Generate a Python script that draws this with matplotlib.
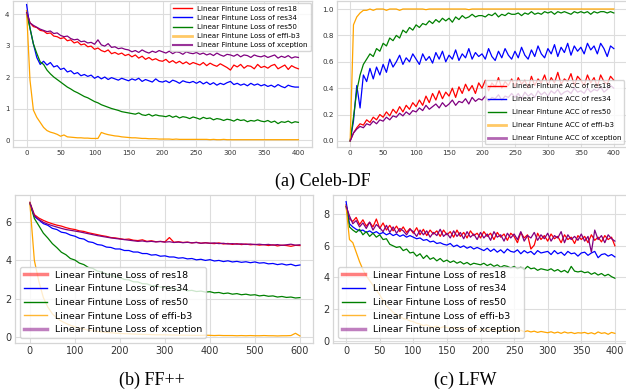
import numpy as np
import matplotlib
matplotlib.use('Agg')
import matplotlib.pyplot as plt
from matplotlib.lines import Line2D

# epochs
ep400 = np.arange(0, 401, 5)
ep600 = np.arange(0, 601, 10)

models = ['res18', 'res34', 'res50', 'effi-b3', 'xception']
colors = ['red', 'blue', 'green', 'orange', 'purple']

# ---------- (a) Celeb-DF loss ----------
cd_loss_res18 = [4.10, 3.72, 3.60, 3.57, 3.48, 3.46, 3.38, 3.40, 3.30, 3.28,
                 3.22, 3.25, 3.15, 3.18, 3.08, 3.12, 3.02, 3.05, 2.96, 2.98,
                 2.88, 2.92, 2.84, 2.80, 2.86, 2.74, 2.78, 2.72, 2.76, 2.68,
                 2.72, 2.64, 2.70, 2.60, 2.66, 2.56, 2.62, 2.54, 2.58, 2.52,
                 2.50, 2.56, 2.46, 2.52, 2.44, 2.50, 2.42, 2.48, 2.40, 2.46,
                 2.42, 2.38, 2.46, 2.36, 2.44, 2.38, 2.34, 2.42, 2.36, 2.30,
                 2.22, 2.38, 2.32, 2.40, 2.28, 2.36, 2.34, 2.26, 2.40, 2.30,
                 2.34, 2.28, 2.36, 2.40, 2.26, 2.32, 2.38, 2.24, 2.36, 2.30,
                 2.26]
cd_loss_res34 = [4.30, 3.55, 3.05, 2.62, 2.40, 2.50, 2.38, 2.46, 2.32, 2.36,
                 2.24, 2.28, 2.16, 2.20, 2.10, 2.14, 2.04, 2.08, 2.02, 2.06,
                 1.96, 2.02, 1.94, 2.00, 1.92, 1.98, 1.94, 1.90, 1.96, 1.92,
                 1.88, 1.94, 1.90, 1.96, 1.86, 1.92, 1.88, 1.84, 1.94, 1.86,
                 1.84, 1.88, 1.82, 1.90, 1.86, 1.80, 1.88, 1.84, 1.82, 1.86,
                 1.80, 1.86, 1.78, 1.84, 1.76, 1.82, 1.74, 1.80, 1.76, 1.82,
                 1.86, 1.76, 1.80, 1.74, 1.78, 1.72, 1.80, 1.74, 1.78, 1.72,
                 1.76, 1.70, 1.74, 1.68, 1.76, 1.70, 1.66, 1.74, 1.70, 1.68,
                 1.68]
cd_loss_res50 = [4.00, 3.55, 3.05, 2.75, 2.48, 2.40, 2.22, 2.10, 2.00, 1.92,
                 1.84, 1.76, 1.68, 1.62, 1.55, 1.50, 1.44, 1.38, 1.34, 1.28,
                 1.22, 1.18, 1.12, 1.08, 1.04, 1.00, 0.97, 0.94, 0.90, 0.88,
                 0.86, 0.84, 0.82, 0.86, 0.80, 0.78, 0.82, 0.76, 0.80, 0.77,
                 0.76, 0.74, 0.78, 0.72, 0.76, 0.70, 0.74, 0.72, 0.68, 0.73,
                 0.70, 0.66, 0.72, 0.68, 0.70, 0.64, 0.68, 0.66, 0.62, 0.66,
                 0.64, 0.60, 0.66, 0.62, 0.64, 0.58, 0.62, 0.60, 0.64, 0.60,
                 0.58, 0.62, 0.56, 0.60, 0.52, 0.58, 0.56, 0.60, 0.54, 0.58,
                 0.56]
cd_loss_effi = [4.10, 1.90, 0.95, 0.72, 0.56, 0.40, 0.30, 0.25, 0.22, 0.18,
                0.12, 0.16, 0.10, 0.09, 0.08, 0.07, 0.07, 0.06, 0.06, 0.05,
                0.05, 0.05, 0.24, 0.20, 0.17, 0.15, 0.13, 0.12, 0.10, 0.09,
                0.08, 0.07, 0.07, 0.06, 0.05, 0.05, 0.04, 0.04, 0.04, 0.03,
                0.03, 0.03, 0.03, 0.02, 0.03, 0.02, 0.02, 0.02, 0.02, 0.02,
                0.02, 0.02, 0.02, 0.02, 0.01, 0.02, 0.01, 0.01, 0.02, 0.01,
                0.01, 0.01, 0.01, 0.01, 0.01, 0.01, 0.01, 0.01, 0.01, 0.01,
                0.01, 0.01, 0.01, 0.01, 0.01, 0.01, 0.01, 0.01, 0.01, 0.01,
                0.01]
cd_loss_xcep = [4.05, 3.72, 3.64, 3.58, 3.52, 3.48, 3.44, 3.46, 3.38, 3.40,
                3.32, 3.28, 3.30, 3.22, 3.18, 3.20, 3.12, 3.14, 3.08, 3.10,
                3.04, 3.18, 3.02, 2.98, 3.06, 2.94, 2.96, 2.90, 2.92, 2.88,
                2.86, 2.80, 2.84, 2.78, 2.86, 2.80, 2.76, 2.82, 2.78, 2.84,
                2.80, 2.76, 2.82, 2.74, 2.80, 2.78, 2.72, 2.80, 2.76, 2.74,
                2.78, 2.72, 2.76, 2.70, 2.74, 2.68, 2.76, 2.70, 2.66, 2.72,
                2.70, 2.66, 2.72, 2.64, 2.70, 2.68, 2.62, 2.70, 2.66, 2.64,
                2.68, 2.62, 2.66, 2.70, 2.60, 2.66, 2.62, 2.68, 2.60, 2.64,
                2.62]

# ---------- (a) Celeb-DF accuracy ----------
cd_acc_res18 = [0.00, 0.06, 0.10, 0.13, 0.12, 0.16, 0.14, 0.18, 0.16, 0.20,
                0.18, 0.22, 0.19, 0.24, 0.21, 0.26, 0.22, 0.27, 0.24, 0.29,
                0.26, 0.31, 0.27, 0.34, 0.29, 0.36, 0.31, 0.38, 0.32, 0.37,
                0.34, 0.40, 0.33, 0.41, 0.36, 0.43, 0.38, 0.42, 0.36, 0.44,
                0.40, 0.46, 0.38, 0.44, 0.41, 0.48, 0.40, 0.45, 0.42, 0.47,
                0.41, 0.48, 0.43, 0.46, 0.40, 0.49, 0.42, 0.47, 0.44, 0.50,
                0.42, 0.48, 0.44, 0.52, 0.43, 0.47, 0.45, 0.51, 0.42, 0.49,
                0.46, 0.42, 0.50, 0.44, 0.48, 0.41, 0.50, 0.45, 0.43, 0.49,
                0.46]
cd_acc_res34 = [0.00, 0.15, 0.42, 0.25, 0.50, 0.45, 0.55, 0.47, 0.56, 0.50,
                0.58, 0.52, 0.62, 0.56, 0.60, 0.65, 0.58, 0.63, 0.60, 0.66,
                0.62, 0.58, 0.66, 0.61, 0.64, 0.59, 0.67, 0.62, 0.68, 0.60,
                0.65, 0.62, 0.69, 0.61, 0.66, 0.63, 0.70, 0.62, 0.67, 0.64,
                0.66, 0.62, 0.70, 0.64, 0.61, 0.68, 0.63, 0.70, 0.65, 0.62,
                0.68, 0.63, 0.71, 0.65, 0.62, 0.69, 0.64, 0.72, 0.66, 0.63,
                0.70, 0.66, 0.73, 0.64, 0.71, 0.67, 0.74, 0.65, 0.72, 0.68,
                0.71, 0.66, 0.74, 0.69, 0.72, 0.66, 0.74, 0.70, 0.64, 0.72,
                0.70]
cd_acc_res50 = [0.00, 0.18, 0.38, 0.50, 0.58, 0.62, 0.66, 0.64, 0.70, 0.68,
                0.74, 0.72, 0.78, 0.76, 0.80, 0.78, 0.84, 0.82, 0.86, 0.84,
                0.88, 0.86, 0.89, 0.88, 0.91, 0.89, 0.92, 0.90, 0.93, 0.91,
                0.93, 0.90, 0.94, 0.92, 0.95, 0.93, 0.94, 0.96, 0.94, 0.95,
                0.95, 0.94, 0.96, 0.95, 0.97, 0.94, 0.96, 0.95, 0.97, 0.96,
                0.96, 0.97, 0.95, 0.97, 0.96, 0.98, 0.96, 0.97, 0.96, 0.98,
                0.97, 0.98, 0.96, 0.98, 0.97, 0.98, 0.97, 0.96, 0.98, 0.97,
                0.98, 0.97, 0.98, 0.96, 0.98, 0.97, 0.98, 0.98, 0.97, 0.98,
                0.97]
cd_acc_effi = [0.00, 0.88, 0.94, 0.97, 0.99, 0.99, 1.00, 0.99, 1.00, 1.00,
               1.00, 0.99, 1.00, 1.00, 1.00, 0.99, 1.00, 1.00, 1.00, 1.00,
               1.00, 1.00, 1.00, 0.995, 1.00, 1.00, 1.00, 1.00, 1.00, 1.00,
               1.00, 1.00, 1.00, 1.00, 1.00, 1.00, 0.995, 1.00, 1.00, 1.00,
               1.00, 1.00, 1.00, 1.00, 1.00, 1.00, 1.00, 1.00, 1.00, 1.00,
               1.00, 1.00, 1.00, 1.00, 1.00, 1.00, 1.00, 1.00, 1.00, 1.00,
               1.00, 1.00, 1.00, 1.00, 1.00, 1.00, 1.00, 1.00, 1.00, 1.00,
               1.00, 1.00, 1.00, 1.00, 1.00, 1.00, 1.00, 1.00, 1.00, 1.00,
               1.00]
cd_acc_xcep = [0.00, 0.06, 0.09, 0.11, 0.10, 0.13, 0.12, 0.15, 0.13, 0.16,
               0.15, 0.18, 0.16, 0.19, 0.18, 0.21, 0.19, 0.22, 0.20, 0.23,
               0.22, 0.25, 0.23, 0.27, 0.24, 0.26, 0.28, 0.25, 0.29, 0.26,
               0.28, 0.31, 0.27, 0.30, 0.29, 0.32, 0.28, 0.33, 0.30, 0.32,
               0.31, 0.34, 0.30, 0.33, 0.32, 0.35, 0.31, 0.34, 0.33, 0.36,
               0.33, 0.36, 0.32, 0.37, 0.34, 0.36, 0.33, 0.38, 0.35, 0.37,
               0.34, 0.38, 0.36, 0.39, 0.35, 0.37, 0.38, 0.36, 0.40, 0.37,
               0.38, 0.36, 0.40, 0.37, 0.39, 0.38, 0.41, 0.37, 0.39, 0.42,
               0.40]

# ---------- (b) FF++ loss ----------
ff_loss_res18 = [7.05, 6.40, 6.22, 6.10, 6.00, 5.92, 5.85, 5.80, 5.72, 5.66,
                 5.62, 5.55, 5.52, 5.45, 5.40, 5.35, 5.30, 5.26, 5.20, 5.18,
                 5.14, 5.10, 5.12, 5.06, 5.04, 5.08, 5.00, 5.03, 4.98, 5.00,
                 4.97, 5.20, 4.95, 4.98, 4.94, 4.96, 4.92, 4.95, 4.90, 4.93,
                 4.90, 4.88, 4.92, 4.86, 4.89, 4.84, 4.88, 4.83, 4.86, 4.82,
                 4.84, 4.80, 4.83, 4.78, 4.82, 4.76, 4.80, 4.78, 4.74, 4.79,
                 4.78]
ff_loss_res34 = [7.00, 6.30, 6.12, 5.93, 5.84, 5.68, 5.62, 5.48, 5.44, 5.33,
                 5.27, 5.16, 5.12, 4.98, 4.94, 4.83, 4.80, 4.70, 4.68, 4.60,
                 4.60, 4.52, 4.52, 4.44, 4.44, 4.36, 4.36, 4.28, 4.30, 4.22,
                 4.24, 4.18, 4.18, 4.12, 4.14, 4.08, 4.10, 4.03, 4.06, 4.00,
                 4.04, 3.97, 4.00, 3.94, 3.98, 3.92, 3.95, 3.90, 3.93, 3.88,
                 3.92, 3.86, 3.88, 3.82, 3.84, 3.78, 3.82, 3.76, 3.80, 3.72,
                 3.76]
ff_loss_res50 = [7.00, 6.20, 5.82, 5.43, 5.17, 4.88, 4.67, 4.43, 4.30, 4.10,
                 4.02, 3.86, 3.78, 3.63, 3.58, 3.44, 3.40, 3.28, 3.24, 3.13,
                 3.10, 3.00, 2.98, 2.88, 2.87, 2.78, 2.77, 2.68, 2.68, 2.60,
                 2.60, 2.53, 2.54, 2.46, 2.48, 2.41, 2.43, 2.37, 2.39, 2.34,
                 2.36, 2.30, 2.32, 2.26, 2.29, 2.23, 2.26, 2.20, 2.23, 2.18,
                 2.20, 2.14, 2.17, 2.12, 2.14, 2.08, 2.11, 2.06, 2.08, 2.03,
                 2.05]
ff_loss_effi = [7.00, 4.00, 2.90, 2.05, 1.55, 1.20, 0.98, 0.82, 0.70, 0.60,
                0.52, 0.45, 0.40, 0.35, 0.31, 0.28, 0.25, 0.23, 0.21, 0.19,
                0.17, 0.16, 0.15, 0.14, 0.13, 0.12, 0.12, 0.11, 0.10, 0.10,
                0.10, 0.09, 0.09, 0.08, 0.08, 0.08, 0.07, 0.07, 0.07, 0.08,
                0.07, 0.06, 0.07, 0.06, 0.06, 0.06, 0.05, 0.06, 0.05, 0.06,
                0.05, 0.05, 0.06, 0.05, 0.05, 0.04, 0.05, 0.05, 0.06, 0.18,
                0.04]
ff_loss_xcep = [7.00, 6.35, 6.15, 6.00, 5.90, 5.82, 5.75, 5.68, 5.62, 5.58,
                5.54, 5.50, 5.45, 5.40, 5.35, 5.30, 5.26, 5.22, 5.18, 5.15,
                5.12, 5.09, 5.06, 5.03, 5.00, 5.02, 4.98, 5.00, 4.97, 4.99,
                4.96, 4.98, 4.94, 4.96, 4.93, 4.95, 4.92, 4.94, 4.90, 4.92,
                4.90, 4.92, 4.88, 4.90, 4.86, 4.88, 4.85, 4.87, 4.84, 4.86,
                4.83, 4.85, 4.82, 4.84, 4.80, 4.83, 4.79, 4.82, 4.85, 4.80,
                4.82]

# ---------- (c) LFW loss ----------
lfw_loss_res18 = [8.60, 7.70, 7.55, 7.80, 7.35, 7.65, 7.25, 7.50, 7.20, 7.70,
                  7.10, 7.45, 7.00, 7.30, 6.95, 7.25, 6.90, 7.20, 6.85, 7.10,
                  6.80, 7.15, 6.70, 7.05, 6.65, 7.00, 6.75, 6.95, 6.60, 7.00,
                  6.70, 6.90, 6.55, 7.00, 6.60, 6.85, 6.50, 6.95, 6.65, 6.80,
                  6.50, 6.90, 6.60, 6.80, 6.40, 6.85, 6.55, 6.75, 6.35, 6.80,
                  6.60, 6.20, 6.85, 6.50, 6.70, 5.80, 6.05, 6.80, 6.40, 6.65,
                  6.30, 6.75, 6.45, 6.60, 6.20, 6.70, 6.40, 6.55, 6.15, 6.65,
                  6.40, 6.60, 6.20, 6.70, 6.35, 6.55, 6.25, 6.65, 6.40, 6.55,
                  6.00]
lfw_loss_res34 = [8.80, 7.40, 7.20, 7.05, 6.95, 7.00, 6.85, 6.95, 6.80, 6.90,
                  6.75, 6.85, 6.70, 6.80, 6.65, 6.75, 6.60, 6.70, 6.55, 6.65,
                  6.55, 6.45, 6.50, 6.35, 6.40, 6.25, 6.30, 6.15, 6.20, 6.10,
                  6.05, 6.15, 5.95, 6.05, 5.90, 6.00, 5.85, 5.95, 5.80, 5.90,
                  5.80, 5.70, 5.85, 5.65, 5.80, 5.60, 5.75, 5.55, 5.80, 5.65,
                  5.60, 5.75, 5.50, 5.70, 5.55, 5.65, 5.45, 5.70, 5.55, 5.60,
                  5.65, 5.45, 5.70, 5.50, 5.60, 5.40, 5.65, 5.50, 5.55, 5.35,
                  5.55, 5.60, 5.40, 5.55, 5.65, 5.25, 5.45, 5.50, 5.35, 5.45,
                  5.30]
lfw_loss_res50 = [8.50, 7.20, 7.00, 6.85, 7.05, 6.70, 6.90, 6.60, 6.80, 6.55,
                  6.70, 6.40, 6.45, 6.10, 6.00, 5.90, 5.95, 5.70, 5.80, 5.55,
                  5.60, 5.35, 5.50, 5.20, 5.40, 5.15, 5.25, 5.05, 5.20, 5.00,
                  5.10, 4.95, 5.05, 4.90, 5.00, 4.85, 4.95, 4.80, 4.90, 4.85,
                  4.80, 4.90, 4.75, 4.85, 4.70, 4.80, 4.65, 4.75, 4.70, 4.60,
                  4.70, 4.55, 4.65, 4.50, 4.70, 4.55, 4.60, 4.45, 4.55, 4.50,
                  4.45, 4.55, 4.40, 4.50, 4.35, 4.45, 4.30, 4.70, 4.40, 4.35,
                  4.40, 4.30, 4.35, 4.20, 4.30, 4.15, 4.25, 4.10, 4.20, 4.05,
                  3.95]
lfw_loss_effi = [8.50, 6.40, 6.20, 5.60, 5.00, 4.50, 4.10, 3.80, 3.50, 3.20,
                 2.90, 2.55, 2.20, 2.00, 1.80, 1.65, 1.55, 1.40, 1.35, 1.25,
                 1.20, 1.10, 1.05, 0.95, 1.00, 0.90, 0.85, 0.92, 0.80, 0.88,
                 0.82, 0.78, 0.85, 0.75, 0.80, 0.72, 0.78, 0.70, 0.76, 0.68,
                 0.72, 0.66, 0.74, 0.64, 0.70, 0.62, 0.68, 0.60, 0.66, 0.62,
                 0.64, 0.58, 0.66, 0.56, 0.62, 0.55, 0.60, 0.52, 0.58, 0.54,
                 0.50, 0.56, 0.48, 0.54, 0.46, 0.55, 0.48, 0.52, 0.45, 0.50,
                 0.48, 0.52, 0.44, 0.50, 0.42, 0.55, 0.46, 0.50, 0.40, 0.52,
                 0.46]
lfw_loss_xcep = [8.50, 7.90, 7.40, 7.60, 7.20, 7.45, 7.10, 7.50, 7.00, 7.35,
                 7.15, 6.90, 7.30, 6.85, 7.20, 6.80, 7.10, 6.95, 6.70, 7.05,
                 6.90, 6.60, 7.00, 6.70, 6.95, 6.55, 6.85, 6.65, 7.05, 6.60,
                 6.80, 6.50, 6.95, 6.60, 6.85, 6.45, 6.90, 6.55, 6.75, 6.40,
                 6.85, 6.50, 6.75, 6.35, 6.90, 6.55, 6.70, 6.30, 6.80, 6.50,
                 6.75, 6.40, 6.90, 6.30, 6.65, 6.50, 6.85, 6.35, 6.70, 6.45,
                 6.80, 6.30, 6.65, 6.50, 6.90, 6.20, 6.70, 6.40, 6.60, 6.35,
                 6.75, 6.30, 6.60, 5.60, 7.00, 6.40, 6.65, 6.20, 6.70, 6.45,
                 6.30]

W, H = 626, 391
fig = plt.figure(figsize=(W / 100, H / 100), dpi=100)


def add_ax(l, t, r, b):
    # pixel box -> figure fraction
    return fig.add_axes([l / W, 1 - b / H, (r - l) / W, (b - t) / H])


def style(ax, fs):
    ax.set_facecolor('white')
    ax.grid(True, color='#dddddd', lw=0.8)
    ax.set_axisbelow(True)
    for s in ax.spines.values():
        s.set_color('#d6d6d6')
        s.set_linewidth(0.9)
    ax.tick_params(length=0, labelsize=fs, colors='#333333', pad=2.5)


def handles(styles):
    return [Line2D([], [], color=c, lw=lw, alpha=a) for c, (lw, a) in zip(colors, styles)]


# ----- top left: Celeb-DF loss -----
ax1 = add_ax(13, 1.5, 312, 147)
series = [cd_loss_res18, cd_loss_res34, cd_loss_res50, cd_loss_effi, cd_loss_xcep]
for s, c in zip(series, colors):
    ax1.plot(ep400, s, color=c, lw=0.9)
ax1.set_xlim(-20, 420)
ax1.set_ylim(-0.222, 4.397)
ax1.set_xticks(range(0, 401, 50))
ax1.set_yticks([0, 1, 2, 3, 4])
style(ax1, 5)
ax1.legend(handles([(1, 1), (1, 1), (1, 1), (2, 0.6), (1.5, 0.8)]),
           ['Linear Fintune Loss of ' + m for m in models],
           loc='upper right', fontsize=5.1, handlelength=2.6, borderaxespad=0.2,
           labelspacing=0.45, edgecolor='#cccccc', framealpha=0.8)

# ----- top right: Celeb-DF ACC -----
ax2 = add_ax(337, 1.5, 627, 147)
series = [cd_acc_res18, cd_acc_res34, cd_acc_res50, cd_acc_effi, cd_acc_xcep]
for s, c in zip(series, colors):
    ax2.plot(ep400, s, color=c, lw=0.9)
ax2.set_xlim(-20, 420)
ax2.set_ylim(-0.046, 1.057)
ax2.set_xticks(range(0, 401, 50))
ax2.set_yticks([0, 0.2, 0.4, 0.6, 0.8, 1.0])
style(ax2, 5.2)
ax2.legend(handles([(1, 1), (1, 1), (1, 1), (2, 0.6), (2, 0.6)]),
           ['Linear Fintune ACC of ' + m for m in models],
           loc='lower right', fontsize=5.1, handlelength=2.6, borderaxespad=0.4,
           labelspacing=1.0, edgecolor='#cccccc', framealpha=0.8)

# ----- bottom left: FF++ loss -----
ax3 = add_ax(15, 195, 313, 343)
series = [ff_loss_res18, ff_loss_res34, ff_loss_res50, ff_loss_effi, ff_loss_xcep]
for s, c in zip(series, colors):
    ax3.plot(ep600, s, color=c, lw=0.9)
ax3.set_xlim(-33, 629)
ax3.set_ylim(-0.33, 7.43)
ax3.set_xticks(range(0, 601, 100))
ax3.set_yticks([0, 2, 4, 6])
style(ax3, 7)
bottom_styles = [(2.5, 0.5), (1, 1), (1, 1), (1, 0.8), (2.5, 0.5)]
ax3.legend(handles(bottom_styles), ['Linear Fintune Loss of ' + m for m in models],
           loc='lower left', fontsize=6.8, handlelength=2.5,
           edgecolor='#cccccc', framealpha=0.8)

# ----- bottom right: LFW loss -----
ax4 = add_ax(333, 195, 628, 343)
series = [lfw_loss_res18, lfw_loss_res34, lfw_loss_res50, lfw_loss_effi, lfw_loss_xcep]
for s, c in zip(series, colors):
    ax4.plot(ep400, s, color=c, lw=0.9)
ax4.set_xlim(-19.5, 419.5)
ax4.set_ylim(-0.15, 9.22)
ax4.set_xticks(range(0, 401, 50))
ax4.set_yticks([0, 2, 4, 6, 8])
style(ax4, 7)
ax4.legend(handles(bottom_styles), ['Linear Fintune Loss of ' + m for m in models],
           loc='lower left', fontsize=6.8, handlelength=2.5,
           edgecolor='#cccccc', framealpha=0.8)

# captions
cap = dict(ha='center', va='center', family='Liberation Serif', fontsize=13, color='black')
fig.text(323 / W, 1 - 181 / H, '(a) Celeb-DF', **cap)
fig.text(152 / W, 1 - 380 / H, '(b) FF++', **cap)
fig.text(465 / W, 1 - 380 / H, '(c) LFW', **cap)

fig.savefig('out.png', dpi=100, facecolor='white')
